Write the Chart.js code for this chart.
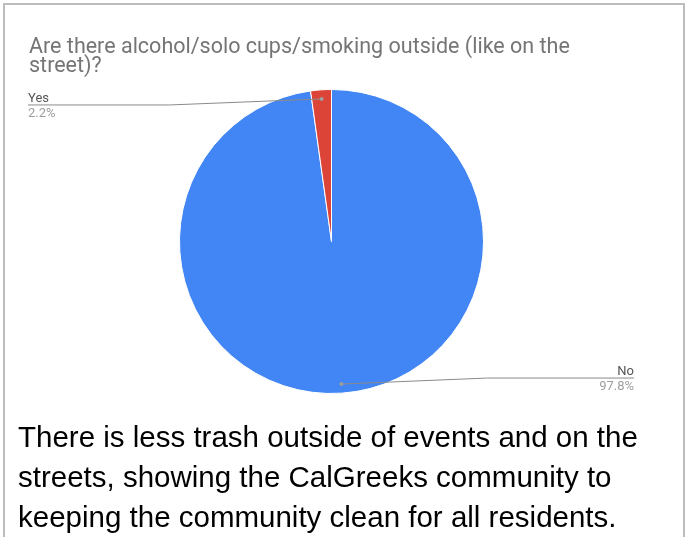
<!DOCTYPE html>
<html>
<head>
<meta charset="utf-8">
<script src="https://cdn.jsdelivr.net/npm/chart.js@4"></script>
<style>
  html, body { margin: 0; padding: 0; background: #fff; }
  body { width: 687px; height: 537px; position: relative; overflow: hidden; }
  #frame { position: absolute; left: 3px; top: 3px; width: 678px; height: 560px;
           border: 2px solid #bdbdbd; border-bottom: none; box-sizing: content-box; }
  #wrap { position: absolute; left: 0; top: 0; width: 687px; height: 537px; }
  #title { position: absolute; left: 29px; top: 36px; width: 640px; white-space: nowrap;
           font-family: Roboto, sans-serif; font-size: 21.5px; line-height: 19px; color: #757575; }
  #note { position: absolute; left: 18px; top: 417px; width: 668px; white-space: nowrap;
          font-family: "Liberation Sans", Arial, sans-serif; font-size: 29.5px; line-height: 40px; color: #000; }
</style>
</head>
<body>
<div id="frame"></div>
<div id="wrap"><canvas id="c" width="687" height="537"></canvas></div>
<div id="title">Are there alcohol/solo cups/smoking outside (like on the<br>street)?</div>
<div id="note">There is less trash outside of events and on the<br>streets, showing the CalGreeks community to<br>keeping the community clean for all residents.</div>
<script>
const categories = ["No", "Yes"];
const values = [97.8, 2.2];
const percentLabels = ["97.8%", "2.2%"];
const colors = ["#4285F4", "#DB4437"];

const leaderPlugin = {
  id: 'leader',
  afterDatasetsDraw(chart) {
    const ctx = chart.ctx;
    const meta = chart.getDatasetMeta(0);
    meta.data.forEach((arc, i) => {
      const p = arc.getProps(['x','y','startAngle','endAngle','outerRadius'], true);
      const mid = (p.startAngle + p.endAngle) / 2;
      const r = p.outerRadius * 0.94;
      const px = p.x + Math.cos(mid) * r;
      const py = p.y + Math.sin(mid) * r;
      const left = px < p.x;
      const lineY = left ? py + 6 : py - 6;
      const elbowX = left ? p.x - 162 : p.x + 156;
      const endX = left ? 28 : 634;
      ctx.save();
      ctx.strokeStyle = '#8a8a8a';
      ctx.lineWidth = 1;
      ctx.beginPath();
      ctx.moveTo(px, py);
      ctx.lineTo(elbowX, lineY);
      ctx.lineTo(endX, lineY);
      ctx.stroke();
      ctx.fillStyle = '#9e9e9e';
      ctx.beginPath();
      ctx.arc(px, py, 2, 0, Math.PI * 2);
      ctx.fill();
      ctx.textAlign = left ? 'left' : 'right';
      ctx.font = '13px Roboto, sans-serif';
      ctx.fillStyle = '#555555';
      ctx.textBaseline = 'alphabetic';
      ctx.fillText(categories[i], endX, lineY - 3);
      ctx.fillStyle = '#9e9e9e';
      ctx.fillText(percentLabels[i], endX, lineY + 12);
      ctx.restore();
    });
  }
};

new Chart(document.getElementById('c'), {
  type: 'pie',
  data: {
    labels: categories,
    datasets: [{
      data: values,
      backgroundColor: colors,
      borderColor: '#ffffff',
      borderWidth: 1
    }]
  },
  options: {
    responsive: false,
    animation: false,
    layout: { padding: { left: 179, right: 203, top: 89, bottom: 143 } },
    plugins: {
      legend: { display: false },
      tooltip: { enabled: false },
      title: { display: false }
    }
  },
  plugins: [leaderPlugin]
});
</script>
</body>
</html>
